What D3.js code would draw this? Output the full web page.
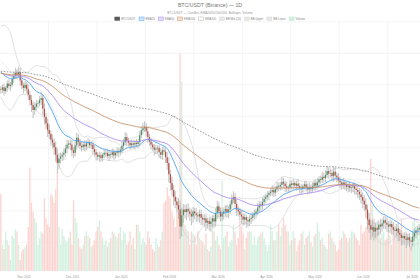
<!DOCTYPE html>
<html><head><meta charset="utf-8">
<script src="https://cdn.jsdelivr.net/npm/d3@7"></script>
<style>body{margin:0;background:#fff}svg{display:block;font-family:"Liberation Sans",Arial,sans-serif}</style>
</head><body><svg id="c" width="420" height="280"></svg>
<script>
// ---- data (prices in $k, volume in k BTC) ----
const preCloses = [88.5,89.0,89.6,90.3,91.0,91.8,92.5,93.0,92.2,91.0,90.2,89.1,88.0,87.2,86.5,85.8,85.0,84.6,84.3];
const closes = [
84.2,84.6,84.0,84.5,85.2,84.8,85.0,85.9,86.4,86.9,
86.6,87.0,85.7,84.9,84.5,85.0,84.3,83.4,82.6,81.8,
81.0,81.5,82.0,82.1,82.6,82.9,81.2,79.9,78.9,77.8,
77.2,76.3,75.8,75.1,73.9,72.6,73.3,73.6,73.9,74.2,
74.9,75.5,75.7,75.5,74.6,74.2,75.4,76.6,75.9,75.3,
75.1,75.5,75.2,75.7,75.9,75.4,75.5,74.8,74.3,73.9,
73.6,73.8,73.4,73.9,74.2,74.2,73.7,74.0,73.9,74.3,
73.8,74.2,74.5,74.3,74.7,75.3,75.9,76.7,76.1,75.8,
75.4,75.7,75.5,75.8,75.6,75.9,77.0,77.8,78.1,78.3,
77.6,76.7,76.0,75.5,75.1,74.7,74.9,75.0,74.3,73.9,
74.6,74.4,73.5,72.6,70.8,69.4,68.3,67.2,66.5,65.9,
65.2,62.5,64.3,65.2,64.8,65.3,64.9,64.5,64.1,64.9,
64.6,64.3,64.1,64.5,63.9,63.6,63.8,63.1,63.4,62.9,
63.3,63.8,63.3,64.6,65.7,64.9,64.1,64.5,64.9,65.3,
64.8,65.2,66.0,66.8,67.2,66.1,65.2,64.9,64.4,64.1,
63.6,64.0,63.5,63.3,63.7,63.9,64.3,64.6,64.9,65.5,
66.0,65.8,66.4,66.9,67.2,67.5,67.8,68.0,68.3,67.9,
68.4,68.9,68.8,69.1,69.6,69.3,68.9,68.6,68.7,69.3,
69.1,69.4,69.0,69.3,68.9,68.6,68.5,68.9,69.2,68.8,
68.4,68.8,68.5,68.9,69.4,69.0,69.5,70.0,69.9,70.4,
70.2,70.7,71.3,70.9,71.0,70.5,71.2,70.6,70.3,69.8,
69.5,69.1,69.5,69.1,68.8,69.0,68.6,68.7,68.9,68.5,
68.3,68.0,67.6,67.2,66.6,66.0,65.2,63.6,62.7,62.0,
62.4,61.7,62.3,62.0,62.8,62.5,63.0,63.5,63.1,62.8,
62.5,62.9,62.4,62.0,61.8,62.2,61.5,61.2,60.7,61.0,
60.6,60.4,60.8,60.3,60.1,60.9,61.5,61.9,62.0,62.3];
const wickUp = [
0.5,0.4,0.6,0.3,0.5,0.7,0.4,0.5,0.6,0.8,
0.6,0.9,0.7,0.5,0.4,0.6,0.5,0.7,0.6,0.8,
0.5,0.7,0.6,0.4,0.6,0.9,0.5,0.8,0.6,0.7,
0.9,0.6,0.8,0.7,0.9,1.0,0.8,0.6,0.5,0.7,
0.6,0.8,0.5,0.6,0.7,0.5,0.9,0.8,0.6,0.5,
0.6,0.4,0.7,0.5,0.6,0.4,0.5,0.7,0.6,0.5,
0.4,0.6,0.5,0.3,0.5,0.4,0.6,0.5,0.4,0.6,
0.5,0.4,0.6,0.5,0.4,0.7,0.5,0.8,0.6,0.5,
0.4,0.6,0.5,0.4,0.6,0.5,0.7,0.6,0.8,0.9,
0.6,0.7,0.5,0.6,0.4,0.5,0.6,0.4,0.5,0.6,
0.5,0.7,0.6,0.8,0.9,0.7,1.0,0.8,0.9,0.7,
1.1,1.4,1.2,0.9,0.8,0.7,0.9,0.6,0.8,0.7,
0.6,0.8,0.5,0.7,0.6,0.5,0.7,0.6,0.5,0.6,
0.7,0.5,0.6,0.8,0.9,0.7,0.6,0.8,0.5,0.6,
0.7,0.5,0.6,0.8,0.9,0.6,0.7,0.5,0.6,0.7,
0.5,0.6,0.4,0.5,0.6,0.7,0.5,0.6,0.4,0.7,
0.6,0.5,0.7,0.6,0.5,0.6,0.4,0.5,0.7,0.6,
0.5,0.7,0.6,0.5,0.8,0.6,0.5,0.7,0.4,0.6,
0.5,0.6,0.4,0.5,0.7,0.5,0.6,0.4,0.5,0.6,
0.5,0.7,0.4,0.6,0.5,0.6,0.7,0.5,0.6,0.8,
0.6,0.7,0.8,0.6,0.7,0.5,0.8,0.6,0.5,0.7,
0.6,0.5,0.7,0.4,0.6,0.5,0.6,0.4,0.5,0.6,
0.5,0.7,0.6,0.8,0.7,0.9,1.0,0.8,1.1,0.9,
1.2,0.9,0.8,1.0,0.7,0.9,0.8,0.6,0.7,0.8,
0.6,0.7,0.5,0.8,0.6,0.7,0.9,0.6,0.7,0.5,
0.6,0.8,0.5,0.7,0.6,0.8,0.7,0.6,0.5,0.6];
const wickDn = [
0.6,0.5,0.7,0.4,0.6,0.5,0.8,0.4,0.6,0.5,
0.7,0.5,0.8,0.6,0.9,0.5,0.7,0.8,0.9,1.1,
1.3,0.8,0.6,0.7,0.5,0.8,1.0,1.2,0.9,1.1,
0.8,1.0,0.9,1.2,1.1,1.6,1.0,0.8,0.7,0.9,
0.6,0.8,0.7,0.9,1.0,0.8,0.6,0.7,0.8,0.6,
0.7,0.5,0.8,0.6,0.7,0.5,0.6,0.8,0.7,0.9,
0.6,0.8,0.7,0.5,0.6,0.7,0.5,0.8,0.6,0.5,
0.7,0.5,0.6,0.8,0.5,0.6,0.7,0.5,0.8,0.6,
0.7,0.5,0.6,0.8,0.5,0.7,0.6,0.5,0.7,0.6,
0.8,0.9,0.7,0.8,0.6,0.9,0.7,0.8,0.9,0.7,
0.8,0.6,0.9,1.1,1.3,1.2,1.0,1.4,1.1,1.3,
1.5,2.0,1.6,1.2,1.0,1.3,0.9,1.1,1.4,1.0,
0.9,1.1,0.8,1.0,1.2,0.9,1.1,1.3,0.9,1.0,
1.2,0.9,1.0,0.8,0.9,1.1,0.8,0.7,0.9,0.8,
0.9,1.0,0.7,0.8,0.6,0.9,1.0,0.8,0.9,1.1,
1.0,0.8,1.2,0.9,0.7,0.8,0.6,0.7,0.8,0.6,
0.7,0.8,0.6,0.5,0.7,0.6,0.8,0.5,0.6,0.7,
0.6,0.5,0.7,0.6,0.8,0.7,0.9,0.6,0.7,0.5,
0.6,0.7,0.5,0.8,0.6,0.7,0.9,0.6,0.5,0.7,
0.8,0.6,0.7,0.5,0.6,0.8,0.5,0.7,0.6,0.5,
0.7,0.6,0.5,0.8,0.6,0.7,0.9,0.6,0.8,0.7,
0.9,0.7,0.6,0.8,0.7,0.9,0.6,0.8,0.7,0.9,
0.8,1.0,0.9,1.1,1.2,1.0,1.3,1.5,1.2,1.6,
1.2,1.4,1.0,1.1,0.9,1.2,0.8,0.9,1.0,1.1,
0.9,1.0,1.2,0.8,1.1,0.9,1.3,1.0,1.2,1.1,
1.0,1.3,0.9,1.1,1.4,0.8,0.7,0.9,0.8,0.7];
const volumes = [
35,12,10,18,14,12,5,16,15,19,
18,12,5,9,10,11,12,20,47,31,
27,24,22,12,15,18,17,33,24,21,
20,35,34,31,37,45,20,12,19,16,
14,13,15,18,12,32,24,22,15,11,
10,12,16,18,16,15,11,12,14,18,
20,23,18,15,12,14,11,13,15,18,
17,16,15,17,20,14,18,17,12,13,
18,12,15,10,21,21,18,12,15,13,
12,18,15,12,10,9,15,12,11,14,
18,31,32,38,34,33,27,24,20,26,
32,99,86,24,21,19,18,12,18,17,
16,12,18,15,14,13,12,17,10,9,
11,24,18,14,16,12,10,41,15,16,
18,11,13,14,21,18,12,15,23,20,
17,10,15,18,18,18,12,16,12,15,
16,17,18,15,12,9,12,21,18,14,
14,18,21,16,20,24,21,18,18,12,
14,18,15,9,12,14,17,18,12,15,
16,18,13,11,16,17,22,18,14,15,
12,11,10,17,18,15,13,12,9,10,
14,15,18,17,15,13,15,18,18,17,
15,14,12,21,17,18,20,24,24,51,
30,24,21,18,18,15,17,18,14,15,
18,16,12,21,15,17,18,19,24,15,
12,18,17,15,11,22,24,18,21,17];
const monthLabels = ["Nov 2025","Dec 2025","Jan 2026","Feb 2026","Mar 2026","Apr 2026","May 2026","Jun 2026","Jul 2026"];
const emaPeriods = [20, 50, 100, 200];
const emaSeeds = [87.3, 87.0, 86.9, 87.2];
const bbPeriod = 20;
const legendNames = ["BTC/USDT","EMA20","EMA50","EMA100","EMA200","BB Mid (20)","BB Upper","BB Lower","Volume"];

// ---- layout ----
const svg = d3.select("#c");
const PT = 21.8, PB = 271;
const x = d3.scaleLinear().domain([0, 260]).range([0, 420]);
const y = d3.scaleLinear().domain([55, 95]).range([273.8, 21.8]);
const yv = d3.scaleLinear().domain([0, 100]).range([PB, PB - 220]);
const step = x(1) - x(0);

svg.append("defs").append("clipPath").attr("id","clip")
  .append("rect").attr("x",0).attr("y",PT).attr("width",420).attr("height",PB-PT);

// grid
const grid = svg.append("g");
grid.selectAll("line.h").data(d3.range(60, 96, 5)).join("line")
  .attr("x1",0).attr("x2",420).attr("y1",d=>y(d)).attr("y2",d=>y(d))
  .attr("stroke","#ededed").attr("stroke-width",0.6);
grid.selectAll("line.v").data(d3.range(30, 260, 30)).join("line")
  .attr("y1",PT).attr("y2",PB).attr("x1",d=>x(d)).attr("x2",d=>x(d))
  .attr("stroke","#ededed").attr("stroke-width",0.6);

// candles
const candles = closes.map((c,i)=>{
  const o = i ? closes[i-1] : preCloses[preCloses.length-1];
  return {i, o, c, h: Math.max(o,c)+wickUp[i], l: Math.min(o,c)-wickDn[i], v: volumes[i], up: c >= o};
});

const plot = svg.append("g").attr("clip-path","url(#clip)");

// volume
plot.append("g").selectAll("rect").data(candles).join("rect")
  .attr("x", d=>x(d.i+0.5)-step*0.4).attr("width", step*0.8)
  .attr("y", d=>yv(d.v)).attr("height", d=>PB-yv(d.v))
  .attr("fill", d=>d.up ? "#d2f0df" : "#fbd3cf");

// indicators
function ema(p, seed){ const a = 2/(p+1); let e = seed; return closes.map(c => (e = a*c + (1-a)*e)); }
const all = preCloses.concat(closes);
const bb = closes.map((c,i)=>{
  const w = all.slice(i, i+bbPeriod);
  const m = d3.mean(w);
  const s = Math.sqrt(d3.mean(w, v=>(v-m)*(v-m)));
  return {m, u: m+2*s, l: m-2*s};
});
const line = d3.line().x((d,i)=>x(i+0.5)).y(d=>y(d)).curve(d3.curveMonotoneX);

const bbColor = "#d4d4d4";
plot.append("path").attr("d", line(bb.map(d=>d.u))).attr("fill","none").attr("stroke",bbColor).attr("stroke-width",0.7);
plot.append("path").attr("d", line(bb.map(d=>d.l))).attr("fill","none").attr("stroke",bbColor).attr("stroke-width",0.7);
plot.append("path").attr("d", line(bb.map(d=>d.m))).attr("fill","none").attr("stroke","#e2e2e2").attr("stroke-width",0.6);

// candles drawn
const cg = plot.append("g");
cg.selectAll("line").data(candles).join("line")
  .attr("x1", d=>x(d.i+0.5)).attr("x2", d=>x(d.i+0.5))
  .attr("y1", d=>y(d.h)).attr("y2", d=>y(d.l))
  .attr("stroke", "#a8a8a8").attr("stroke-width", 0.7);
cg.selectAll("rect").data(candles).join("rect")
  .attr("x", d=>x(d.i+0.5)-step*0.38).attr("width", step*0.76)
  .attr("y", d=>y(Math.max(d.o,d.c))).attr("height", d=>Math.max(0.6, Math.abs(y(d.o)-y(d.c))))
  .attr("fill", d=>d.up ? "#4a8f63" : "#b5503f");

const emaColors = ["#4ea3ef","#a98cf0","#c9916a","#7d7d7d"];
emaPeriods.forEach((p,k)=>{
  const path = plot.append("path").attr("d", line(ema(p, emaSeeds[k])))
    .attr("fill","none").attr("stroke",emaColors[k]).attr("stroke-width",0.9);
  if (p === 200) path.attr("stroke-dasharray","1.6,1.4").attr("stroke-width",0.8);
});

// x labels
svg.append("g").selectAll("text").data(monthLabels).join("text")
  .attr("x",(d,k)=>x(15+30*k)).attr("y",278.3).attr("text-anchor","middle")
  .attr("font-size",3.1).attr("fill","#999").text(d=>d);

// title
svg.append("text").attr("x",210).attr("y",7).attr("text-anchor","middle")
  .attr("font-size",5.2).attr("fill","#777").text("BTC/USDT (Binance) — 1D");
svg.append("text").attr("x",210).attr("y",13.6).attr("text-anchor","middle")
  .attr("font-size",3.1).attr("fill","#999").text("BTC/USDT — Candles, EMA20/50/100/200, Bollinger, Volume");

// legend
const legendStyles = [
  {fill:"#5a5a5a", stroke:"#5a5a5a"},
  {fill:"#cfe5fb", stroke:"#4ea3ef"},
  {fill:"#e3dafb", stroke:"#a98cf0"},
  {fill:"#f1e1d5", stroke:"#c9916a"},
  {fill:"#ffffff", stroke:"#7d7d7d", dash:"0.8,0.6"},
  {fill:"#e8e8e8", stroke:"#d9d9d9"},
  {fill:"#e8e8e8", stroke:"#d9d9d9"},
  {fill:"#e8e8e8", stroke:"#d9d9d9"},
  {fill:"#d2f0df", stroke:"#c2e8d1"}
];
const lg = svg.append("g");
let cx = 0;
legendNames.forEach((name,k)=>{
  const g = lg.append("g");
  const st = legendStyles[k];
  const r = g.append("rect").attr("x",0).attr("y",17).attr("width",5).attr("height",3.4)
    .attr("fill",st.fill).attr("stroke",st.stroke).attr("stroke-width",0.5);
  if (st.dash) r.attr("stroke-dasharray",st.dash);
  const t = g.append("text").attr("x",6.4).attr("y",19.8).attr("font-size",2.9).attr("fill","#8a8a8a").text(name);
  const w = 6.4 + t.node().getComputedTextLength();
  g.attr("transform",`translate(${cx},0)`);
  cx += w + 3.4;
});
const total = cx - 3.4;
lg.attr("transform",`translate(${210 - total/2},0)`);
</script></body></html>
